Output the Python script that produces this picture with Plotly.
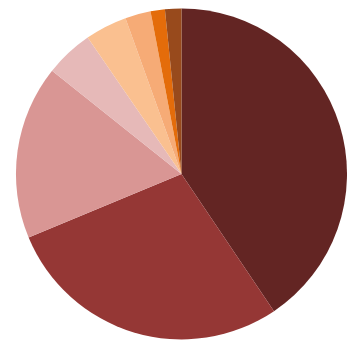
import plotly.graph_objects as go

categories = ["A", "B", "C", "D", "E", "F", "G", "H"]
values = [40.6, 28.2, 17.0, 4.7, 4.1, 2.5, 1.4, 1.6]
colors = ["#632523", "#953735", "#D99694", "#E6B9B8", "#FAC090", "#F6AB76", "#E46C0A", "#984A1C"]

fig = go.Figure(
    go.Pie(
        labels=categories,
        values=values,
        sort=False,
        direction="clockwise",
        rotation=0,
        marker=dict(colors=colors, line=dict(width=0)),
        textinfo="none",
        hoverinfo="label+percent",
        domain=dict(x=[0.046, 1.0], y=[0.003, 0.98]),
    )
)

fig.update_layout(
    width=347,
    height=342,
    margin=dict(l=0, r=0, t=0, b=0),
    showlegend=False,
    paper_bgcolor="white",
    plot_bgcolor="white",
)

fig.write_html("out.html")
